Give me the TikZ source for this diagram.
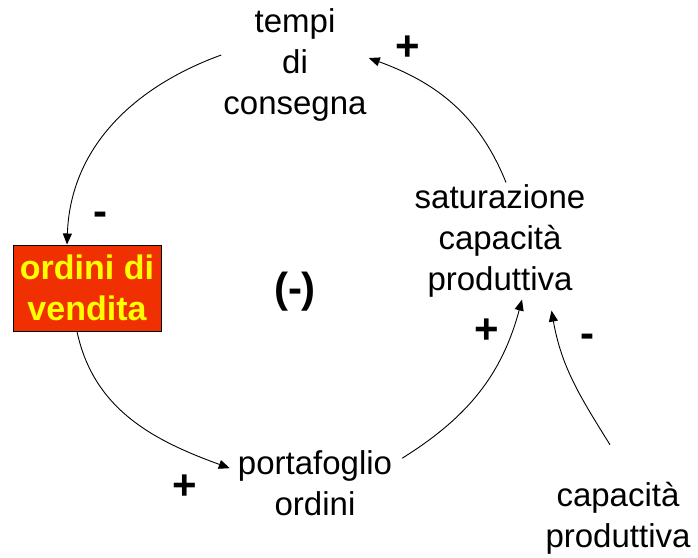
\documentclass[tikz,border=0pt]{standalone}
\usepackage{fontspec}
\setmainfont{Liberation Sans}
\usepackage{xcolor}
\usetikzlibrary{arrows.meta}
\definecolor{boxred}{HTML}{F03000}
\definecolor{boxyellow}{HTML}{FFFF00}
\tikzset{every node/.append style={font=\fontsize{33}{41}\selectfont, inner sep=2pt}}

\begin{document}
\begin{tikzpicture}[x=1pt, y=-1pt, >={Triangle[length=11pt,width=9pt]},
    link/.style={->, line width=0.9pt},
    sign/.style={font=\fontsize{42}{48}\selectfont\bfseries}]
    \useasboundingbox (0,0) rectangle (698,557);
    \node[align=center] (tempi) at (295,65) {tempi\\di\\consegna};
    \node[align=center] (sat) at (500,241) {saturazione\\capacità\\produttiva};
    \node[align=center] (port) at (315,483) {portafoglio\\ordini};
    \node[align=center] (cap) at (618,518) {capacità\\produttiva};
    \node[draw=black, line width=1pt, fill=boxred, text=boxyellow, align=center, minimum width=148pt, minimum height=86pt, inner sep=0pt, font=\fontsize{34}{41}\selectfont\bfseries] (ordini) at (87,288) {ordini di\\vendita};
    \node[sign] (p1) at (408,48) {+};
    \node[sign] (m1) at (100,219) {-};
    \node[sign] (loop) at (295,292) {(-)};
    \node[sign] (p2) at (487,331) {+};
    \node[sign] (m2) at (587,341) {-};
    \node[sign] (p3) at (185,487) {+};
    \draw[link] ([xshift=6pt]sat.north) to[out=112, in=-20] ([yshift=7pt]tempi.east);
    \draw[link] ([yshift=10pt]tempi.west) to[out=200, in=88] ([xshift=-20pt]ordini.north);
    \draw[link] ([xshift=-10pt]ordini.south) to[out=-78, in=160] ([shift={(-6pt,-20pt)}]port.north west);
    \draw[link] ([shift={(8pt,-10pt)}]port.north east) to[out=32, in=-105] ([xshift=22pt]sat.south);
    \draw[link] ([shift={(-8pt,35pt)}]cap.north) to[out=122, in=-80] ([shift={(-36pt,-11pt)}]sat.south east);
\end{tikzpicture}
\end{document}
